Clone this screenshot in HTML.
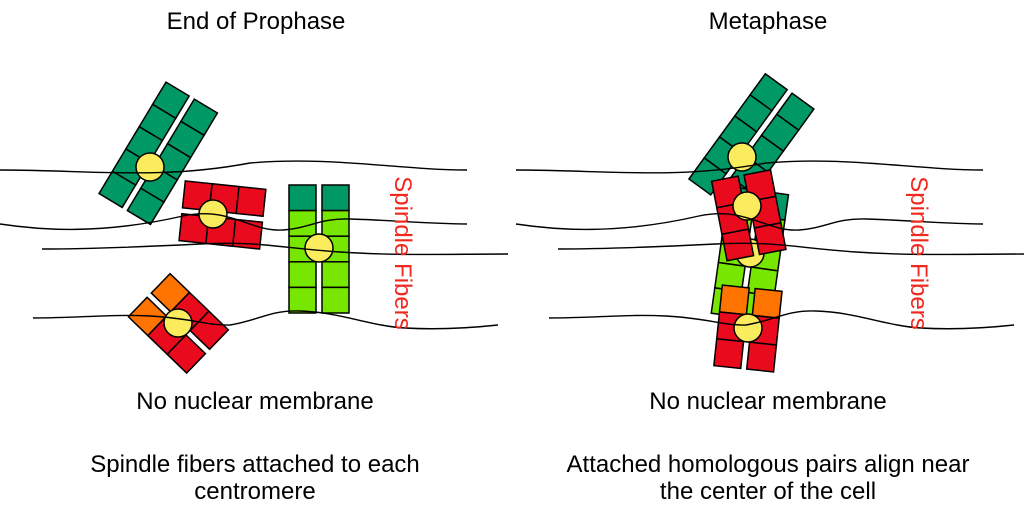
<!DOCTYPE html>
<html><head><meta charset="utf-8"><style>
html,body{margin:0;padding:0;background:#fff;}
svg{display:block;}
text{font-family:"Liberation Sans",Arial,sans-serif;}
</style></head><body>
<svg width="1024" height="508" viewBox="0 0 1024 508" xmlns="http://www.w3.org/2000/svg">
<defs>
<g id="dg5">
 <g stroke="#000" stroke-width="1.5" fill="#009966">
  <rect x="-30" y="-81" width="27" height="26"/><rect x="-30" y="-55" width="27" height="26"/><rect x="-30" y="-29" width="27" height="26"/><rect x="-30" y="-3" width="27" height="26"/><rect x="-30" y="23" width="27" height="26"/>
  <rect x="3" y="-81" width="27" height="26"/><rect x="3" y="-55" width="27" height="26"/><rect x="3" y="-29" width="27" height="26"/><rect x="3" y="-3" width="27" height="26"/><rect x="3" y="23" width="27" height="26"/>
 </g>
 <circle r="14" fill="#fbec5d" stroke="#000" stroke-width="1.5"/>
</g>
<g id="lg5">
 <g stroke="#000" stroke-width="1.5">
  <rect x="-30" y="-63" width="27" height="25.6" fill="#009966"/><rect x="3" y="-63" width="27" height="25.6" fill="#009966"/>
  <g fill="#77e600">
  <rect x="-30" y="-37.4" width="27" height="25.6"/><rect x="-30" y="-11.8" width="27" height="25.6"/><rect x="-30" y="13.8" width="27" height="25.6"/><rect x="-30" y="39.4" width="27" height="25.6"/>
  <rect x="3" y="-37.4" width="27" height="25.6"/><rect x="3" y="-11.8" width="27" height="25.6"/><rect x="3" y="13.8" width="27" height="25.6"/><rect x="3" y="39.4" width="27" height="25.6"/>
  </g>
 </g>
 <circle r="14" fill="#fbec5d" stroke="#000" stroke-width="1.5"/>
</g>
<g id="rd3">
 <g stroke="#000" stroke-width="1.5" fill="#ea0a1e">
  <rect x="-30" y="-31" width="27" height="27"/><rect x="-30" y="-4" width="27" height="27"/><rect x="-30" y="23" width="27" height="27"/>
  <rect x="3" y="-31" width="27" height="27"/><rect x="3" y="-4" width="27" height="27"/><rect x="3" y="23" width="27" height="27"/>
 </g>
 <circle r="14" fill="#fbec5d" stroke="#000" stroke-width="1.5"/>
</g>
<g id="or3">
 <g stroke="#000" stroke-width="1.5">
  <rect x="-30" y="-40" width="27" height="27" fill="#ff7300"/><rect x="3" y="-40" width="27" height="27" fill="#ff7300"/>
  <g fill="#ea0a1e">
  <rect x="-30" y="-13" width="27" height="27"/><rect x="-30" y="14" width="27" height="27"/>
  <rect x="3" y="-13" width="27" height="27"/><rect x="3" y="14" width="27" height="27"/>
  </g>
 </g>
 <circle r="14" fill="#fbec5d" stroke="#000" stroke-width="1.5"/>
</g>
<g id="fibers" fill="none" stroke="#000" stroke-width="1.4">
 <path d="M0,170 C90,170 160,180 250,163 C330,156 400,170 467,170"/>
 <path d="M0,224 C40,230 100,235 183,216 C230,206 250,232 283,230 C310,228 320,218 350,219 C390,220 430,224 467,224"/>
 <path d="M42,249 C100,249 160,246 200,244 C260,241 280,248 340,252 C400,256 450,254 508,254"/>
 <path d="M33,318 C80,318 110,314 150,316 C190,318 210,326 230,325 C260,320 270,310 300,311 C340,312 370,326 405,328 C440,330 470,328 498,325"/>
</g>
</defs>

<text x="256" y="29" font-size="24" text-anchor="middle">End of Prophase</text>
<text x="768" y="29" font-size="24" text-anchor="middle">Metaphase</text>

<!-- left panel -->
<use href="#dg5" transform="translate(150,167) rotate(31)"/>
<use href="#rd3" transform="translate(213,214) rotate(-84)"/>
<use href="#lg5" transform="translate(319,248)"/>
<use href="#or3" transform="translate(178,323) rotate(-46)"/>
<use href="#fibers"/>

<!-- right panel -->
<use href="#dg5" transform="translate(742,157) rotate(36)"/>
<use href="#lg5" transform="translate(750,253) rotate(8)"/>
<use href="#rd3" transform="translate(747,206) rotate(-11)"/>
<use href="#or3" transform="translate(748,328) rotate(6)"/>
<use href="#fibers" transform="translate(516,0)"/>

<text transform="translate(395,253) rotate(90)" font-size="24" fill="#f0281e" text-anchor="middle">Spindle Fibers</text>
<text transform="translate(911,253) rotate(90)" font-size="24" fill="#f0281e" text-anchor="middle">Spindle Fibers</text>

<text x="255" y="409" font-size="24" text-anchor="middle">No nuclear membrane</text>
<text x="768" y="409" font-size="24" text-anchor="middle">No nuclear membrane</text>

<text x="255" y="472" font-size="24" text-anchor="middle">Spindle fibers attached to each</text>
<text x="255" y="499" font-size="24" text-anchor="middle">centromere</text>
<text x="768" y="472" font-size="24" text-anchor="middle">Attached homologous pairs align near</text>
<text x="768" y="499" font-size="24" text-anchor="middle">the center of the cell</text>
</svg>
</body></html>
